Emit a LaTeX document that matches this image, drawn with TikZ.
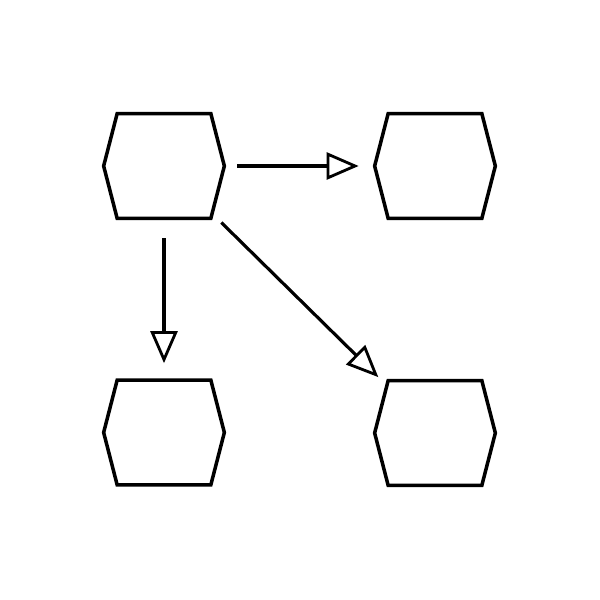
\documentclass[tikz,border=0pt]{standalone}
\usetikzlibrary{arrows.meta}

\tikzset{
  hexbox/.style={draw=none, minimum width=2.4cm, minimum height=2.08cm, inner sep=0pt},
  hexline/.style={line width=2pt, line join=miter},
  flow/.style={line width=1.8pt, -{Triangle[open, length=0.64cm, width=0.54cm, line width=1.6pt]}}
}

\begin{document}
\begin{tikzpicture}
    \useasboundingbox (0,0) rectangle (12,12);
    \node[hexbox] at (3.28, 8.68) (tl) {};
    \node[hexbox] at (8.70, 8.68) (tr) {};
    \node[hexbox] at (3.28, 3.35) (bl) {};
    \node[hexbox] at (8.70, 3.34) (br) {};
    % the hexagons round each box
    \foreach \n in {tl,tr,bl,br}
      \draw[hexline] ([xshift=0.27cm]\n.north west) -- ([xshift=-0.27cm]\n.north east)
        -- (\n.east) -- ([xshift=-0.27cm]\n.south east) -- ([xshift=0.27cm]\n.south west)
        -- (\n.west) -- cycle;
    \draw[flow, shorten <=0.26cm, shorten >=0.32cm] (tl) -- (tr);
    \draw[flow, shorten <=0.4cm, shorten >=0.34cm] (tl) -- (bl);
    \draw[flow, shorten <=0.12cm, shorten >=0.1cm] (tl) -- (br);
  \end{tikzpicture}
\end{document}
